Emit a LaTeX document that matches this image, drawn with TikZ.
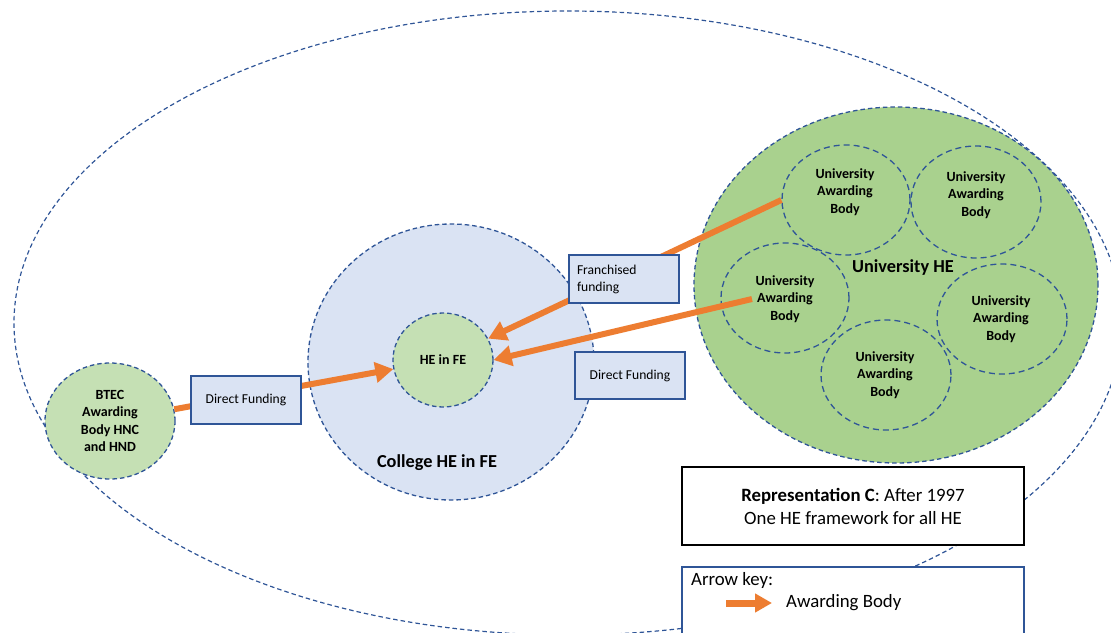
\documentclass[tikz,border=0pt]{standalone}
\usepackage{fontspec}
\setmainfont{Carlito}
\usetikzlibrary{shapes.geometric,arrows.meta}

\definecolor{ringblue}{HTML}{2F5597}
\definecolor{unigreen}{HTML}{A9D18E}
\definecolor{palegreen}{HTML}{C5E0B4}
\definecolor{paleblue}{HTML}{DAE3F3}
\definecolor{awardorange}{HTML}{ED7D31}

\newcommand{\smallbold}{\bfseries\fontsize{14}{17.5}\selectfont}
\newcommand{\boxfont}{\fontsize{13.6}{17}\selectfont}
\newcommand{\bigbold}{\bfseries\fontsize{18.3}{22}\selectfont}
\newcommand{\keyfont}{\fontsize{18.8}{23}\selectfont}

\begin{document}
\begin{tikzpicture}[x=1pt,y=-1pt,
  outerring/.style={ellipse, draw=ringblue, line width=1.2pt,
    dash pattern=on 4.5pt off 3pt, inner sep=0pt},
  filledring/.style={ellipse, draw=ringblue, line width=1.3pt,
    dash pattern=on 4.5pt off 3pt, inner sep=0pt},
  bodyring/.style={ellipse, draw=ringblue, line width=1.3pt,
    dash pattern=on 6pt off 4pt, inner sep=0pt},
  unitext/.style={font=\smallbold, align=center, inner sep=0pt},
  fundbox/.style={rectangle, draw=ringblue, line width=1.5pt, fill=paleblue,
    font=\boxfont, inner sep=0pt, minimum width=110pt, minimum height=48pt},
  keybox/.style={rectangle, fill=white, line width=1.5pt, inner sep=0pt,
    minimum width=342pt},
  awardarrow/.style={draw=awardorange, line width=6pt,
    -{Triangle[length=18pt,width=20pt]}}
]
\useasboundingbox (0,0) rectangle (1111,632);
\clip (0,0) rectangle (1111,632);

% outer frame enclosing all HE
\node[outerring, minimum width=1108pt, minimum height=624pt] (allhe) at (568,323) {};

% the two sectors
\node[filledring, fill=unigreen, minimum width=404pt, minimum height=356pt] (uni) at (896,285) {};
\node[filledring, fill=paleblue, minimum width=286pt, minimum height=276pt] (college) at (451,362) {};

% university awarding bodies
\node[bodyring, minimum width=128pt, minimum height=110pt] (uA) at (846,200) {};
\node[bodyring, minimum width=130pt, minimum height=112pt] (uB) at (976,202) {};
\node[bodyring, minimum width=128pt, minimum height=110pt] (uC) at (785,298) {};
\node[bodyring, minimum width=130pt, minimum height=110pt] (uD) at (886,375) {};
\node[bodyring, minimum width=130pt, minimum height=110pt] (uE) at (1002,319) {};

\node[unitext] (tA) at (845,192) {University\\Awarding\\Body};
\node[unitext] (tB) at (976,195) {University\\Awarding\\Body};
\node[unitext] (tC) at (785,299) {University\\Awarding\\Body};
\node[unitext] (tD) at (885,375) {University\\Awarding\\Body};
\node[unitext] (tE) at (1001,319) {University\\Awarding\\Body};

\node[font=\bigbold, inner sep=0pt] (unilabel) at (903,268) {University HE};

% college and awarding bodies
\node[filledring, fill=palegreen, minimum width=100pt, minimum height=94pt,
  font=\smallbold] (hefe) at (443,360) {HE in FE};
\node[filledring, fill=palegreen, minimum width=130pt, minimum height=116pt,
  font=\smallbold, align=center] (btec) at (110,421) {BTEC\\Awarding\\Body HNC\\and HND};
\node[font=\bigbold, inner sep=0pt] (collegelabel) at (437,463) {College HE in FE};

% awarding-body arrows
\coordinate (cstart) at (752,299);
\draw[awardarrow] (btec) -- (hefe);
\draw[awardarrow] (uA.west) -- (hefe);
\draw[awardarrow] (cstart) -- (hefe.east);

% funding boxes
\node[fundbox] (directleft) at (246,400) {Direct Funding};
\node[fundbox, text width=94pt, inner xsep=8pt, align=left] (franchised) at (624,279)
  {Franchised\\funding};
\node[fundbox, minimum height=47pt] (directright) at (630,375.5) {Direct Funding};

% caption and key
\node[keybox, draw=black, minimum height=78pt, font=\keyfont, align=center] (caption)
  at (853,506) {\textbf{Representation C}: After 1997\\One HE framework for all HE};
\node[keybox, draw=ringblue, minimum height=90pt] (key) at (853,612) {};
\node[font=\keyfont, anchor=west, inner sep=0pt] (keytitle) at (691,580) {Arrow key:};
\coordinate (keytail) at (726,603);
\coordinate (keytip) at (772,603);
\draw[awardarrow, line width=7pt, -{Triangle[length=17pt,width=18pt]}] (keytail) -- (keytip);
\node[font=\keyfont, anchor=west, inner sep=0pt] (keylabel) at (786,603) {Awarding Body};
\end{tikzpicture}
\end{document}
